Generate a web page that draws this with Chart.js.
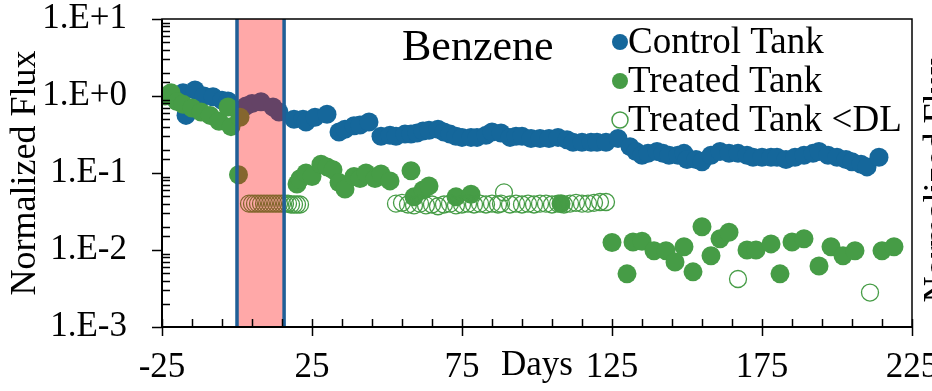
<!DOCTYPE html>
<html>
<head>
<meta charset="utf-8">
<script src="https://cdn.jsdelivr.net/npm/chart.js@4/dist/chart.umd.min.js"></script>
<style>
  html, body { margin: 0; padding: 0; background: #ffffff; }
  #wrap { width: 932px; height: 391px; }
</style>
</head>
<body>
<div id="wrap"><canvas id="fluxChart" width="932" height="391"></canvas></div>
<script>
// Control tank (days, normalized flux)
const controlDays = [-21, -18, -17, -14, -11, -8, -5, -3, 3, 5, 8, 12, 14,
  19, 22, 23, 26, 30, 34, 36, 39, 41, 44, 48, 51, 53, 56, 58, 60, 62, 64, 67, 69,
  71, 73, 75, 78, 80, 83, 85, 88, 91, 93, 95, 98, 101, 104, 107, 110, 112, 115,
  118, 120, 123, 127, 131, 133, 135, 137, 140, 142, 144, 147, 149, 150, 153, 155,
  158, 161, 164, 167, 170, 172, 175, 178, 180, 183, 186, 189, 192, 194, 197, 200,
  203, 205, 208, 210, 214];
const controlFlux = [0.95, 1.1, 0.56, 1.2, 1.0, 0.98, 0.88, 0.86, 0.74, 0.8, 0.84, 0.72, 0.62,
  0.50, 0.50, 0.46, 0.53, 0.58, 0.34, 0.37, 0.41, 0.42, 0.46, 0.30, 0.31, 0.30, 0.32, 0.32, 0.33, 0.35, 0.36, 0.37, 0.34,
  0.32, 0.30, 0.29, 0.29, 0.29, 0.31, 0.34, 0.33, 0.29, 0.30, 0.30, 0.28, 0.28, 0.28, 0.29, 0.27, 0.25, 0.25,
  0.25, 0.25, 0.25, 0.28, 0.22, 0.19, 0.17, 0.18, 0.19, 0.18, 0.17, 0.17, 0.18, 0.15, 0.15, 0.14,
  0.17, 0.19, 0.18, 0.18, 0.17, 0.16, 0.16, 0.16, 0.16, 0.15, 0.16, 0.17, 0.18, 0.19, 0.17, 0.16,
  0.15, 0.14, 0.13, 0.12, 0.16];

// Treated tank, detected values
const treatedDays = [-24, -22, -20, -18, -15, -12, -9, -6, -3, -2, 1, 0.5,
  20, 21, 23, 25, 28, 30, 32, 34, 36, 39, 41, 43, 46, 48, 51, 58, 59, 62, 64, 73, 78, 108,
  125, 130, 132, 135, 139, 143, 146, 149, 152, 155, 158, 161, 164, 170, 173, 178, 181,
  185, 189, 194, 198, 202, 206, 215, 219];
const treatedFlux = [1.0, 1.1, 0.85, 0.78, 0.7, 0.62, 0.56, 0.47, 0.72, 0.40, 0.53, 0.095,
  0.072, 0.084, 0.10, 0.09, 0.13, 0.12, 0.11, 0.075, 0.062, 0.09, 0.085, 0.10, 0.085, 0.097, 0.079, 0.107, 0.049, 0.06, 0.068, 0.049, 0.053, 0.040,
  0.0125, 0.0049, 0.0127, 0.013, 0.0098, 0.0098, 0.0070, 0.011, 0.0052, 0.020, 0.0084, 0.014, 0.017, 0.010, 0.010, 0.012, 0.0049,
  0.0127, 0.014, 0.0062, 0.011, 0.0084, 0.0098, 0.0098, 0.011];

// Treated tank, below detection limit
const belowDlDays = [4, 5, 6, 7, 8, 9, 10, 11, 12, 13, 14, 15, 16, 17, 18, 19, 20, 21,
  53, 55, 57, 59, 61, 63, 65, 67, 69, 71, 73, 75, 77, 79, 81, 83, 85, 87, 88, 89, 91, 93,
  95, 97, 99, 101, 103, 105, 107, 109, 111, 113, 115, 117, 119, 121, 123, 167, 211];
const belowDlFlux = [0.040, 0.040, 0.040, 0.040, 0.040, 0.040, 0.040, 0.040, 0.040, 0.040, 0.040, 0.040, 0.040, 0.040, 0.039, 0.039, 0.039, 0.039,
  0.040, 0.041, 0.039, 0.038, 0.040, 0.038, 0.039, 0.037, 0.039, 0.040, 0.038, 0.039, 0.040, 0.039, 0.040, 0.039, 0.040, 0.039, 0.040, 0.056, 0.039, 0.040,
  0.039, 0.040, 0.039, 0.040, 0.040, 0.039, 0.040, 0.039, 0.040, 0.041, 0.040, 0.040, 0.041, 0.042, 0.042, 0.0042, 0.0028];

// Treatment window (days)
const treatWindow = [0, 15.7];

// Axis settings
const xMin = -25, xMax = 225, xMajorStep = 50, xMinorStep = 10;
const yMin = 1e-3, yMax = 10;

const BLUE = '#15679b';
const GREEN = '#469c46';
const FONT = '"Liberation Serif", "Times New Roman", serif';

const toPoints = (xs, ys) => xs.map((x, i) => ({ x: x, y: ys[i] }));

/**
 * Draws minor/major tick marks, plot frame, shaded window, legend and extra text.
 */
const decorPlugin = {
  id: 'decor',
  afterDatasetsDraw(chart) {
    const { ctx, chartArea: a, scales: { x } } = chart;
    // shaded treatment window, drawn over the points
    const x0 = x.getPixelForValue(treatWindow[0]);
    const x1 = x.getPixelForValue(treatWindow[1]);
    ctx.save();
    ctx.fillStyle = 'rgba(255, 0, 0, 0.34)';
    ctx.fillRect(x0, a.top, x1 - x0, a.bottom - a.top);
    ctx.strokeStyle = '#1f5f97';
    ctx.lineWidth = 3.5;
    ctx.beginPath();
    ctx.moveTo(x0, a.top); ctx.lineTo(x0, a.bottom);
    ctx.moveTo(x1, a.top); ctx.lineTo(x1, a.bottom);
    ctx.stroke();
    ctx.restore();
  },
  afterDraw(chart) {
    const { ctx, chartArea: a, scales: { x, y } } = chart;
    ctx.save();
    ctx.strokeStyle = '#000';
    // frame
    ctx.lineWidth = 1.5;
    ctx.strokeRect(a.left, a.top, a.right - a.left, a.bottom - a.top);
    ctx.lineWidth = 2;
    ctx.beginPath();
    ctx.moveTo(a.left, a.top); ctx.lineTo(a.left, a.bottom); ctx.lineTo(a.right, a.bottom);
    ctx.stroke();
    // y ticks: decades outside, others inside
    ctx.lineWidth = 1.5;
    ctx.beginPath();
    y.ticks.forEach(t => {
      const py = Math.round(y.getPixelForValue(t.value)) + 0.5;
      const major = Math.abs(Math.log10(t.value) - Math.round(Math.log10(t.value))) < 1e-9;
      if (major) { ctx.moveTo(a.left - 10, py); ctx.lineTo(a.left, py); }
      else { ctx.moveTo(a.left, py); ctx.lineTo(a.left + 8, py); }
    });
    // x ticks
    x.ticks.forEach(t => {
      const px = Math.round(x.getPixelForValue(t.value)) + 0.5;
      const major = (t.value - xMin) % xMajorStep === 0;
      if (major) { ctx.moveTo(px, a.bottom - 8); ctx.lineTo(px, a.bottom + 9); }
      else { ctx.moveTo(px, a.bottom - 8); ctx.lineTo(px, a.bottom); }
    });
    ctx.stroke();

    // "Days" label between tick labels
    ctx.fillStyle = '#000';
    ctx.font = `35px ${FONT}`;
    ctx.textAlign = 'center';
    ctx.textBaseline = 'middle';
    ctx.fillText('Days', x.getPixelForValue(100), 366);

    // chart name
    ctx.textAlign = 'left';
    ctx.font = `44px ${FONT}`;
    ctx.fillText('Benzene', 402, 48);

    // legend
    const items = [
      { label: 'Control Tank', fill: BLUE, stroke: BLUE },
      { label: 'Treated Tank', fill: GREEN, stroke: GREEN },
      { label: 'Treated Tank <DL', fill: null, stroke: GREEN }
    ];
    ctx.font = `37px ${FONT}`;
    items.forEach((it, i) => {
      const cy = 42 + i * 39;
      ctx.beginPath();
      ctx.arc(620, cy, 8, 0, Math.PI * 2);
      if (it.fill) { ctx.fillStyle = it.fill; ctx.fill(); }
      else { ctx.strokeStyle = it.stroke; ctx.lineWidth = 1.5; ctx.stroke(); }
      ctx.fillStyle = '#000';
      ctx.fillText(it.label, 628, cy + 1);
    });

    // clipped title of the neighbouring panel at the right edge
    ctx.translate(921, 180);
    ctx.rotate(-Math.PI / 2);
    ctx.textAlign = 'center';
    ctx.textBaseline = 'top';
    ctx.font = `36px ${FONT}`;
    ctx.fillText('Normalized Flux', 0, 0);
    ctx.restore();
  }
};

const ctx = document.getElementById('fluxChart').getContext('2d');
new Chart(ctx, {
  type: 'scatter',
  data: {
    datasets: [
      {
        label: 'Control Tank',
        data: toPoints(controlDays, controlFlux),
        backgroundColor: BLUE,
        borderColor: BLUE,
        pointRadius: 9.5,
        borderWidth: 0,
        order: 3
      },
      {
        label: 'Treated Tank',
        data: toPoints(treatedDays, treatedFlux),
        backgroundColor: GREEN,
        borderColor: GREEN,
        pointRadius: 9.5,
        borderWidth: 0,
        order: 2
      },
      {
        label: 'Treated Tank <DL',
        data: toPoints(belowDlDays, belowDlFlux),
        backgroundColor: 'rgba(0,0,0,0)',
        borderColor: GREEN,
        pointRadius: 8.5,
        borderWidth: 1.3,
        order: 1
      }
    ]
  },
  options: {
    responsive: false,
    animation: false,
    devicePixelRatio: 1,
    layout: { padding: { left: 0, top: 19, right: 20, bottom: 0 } },
    plugins: {
      legend: { display: false },
      tooltip: { enabled: false }
    },
    scales: {
      x: {
        type: 'linear',
        min: xMin,
        max: xMax,
        afterFit: s => { s.height = 64; s.paddingLeft = 0; s.paddingRight = 0; },
        afterBuildTicks: s => {
          s.ticks = [];
          for (let v = xMin; v <= xMax; v += xMinorStep) s.ticks.push({ value: v });
        },
        grid: { display: false, drawTicks: false },
        border: { display: false },
        ticks: {
          autoSkip: false,
          maxRotation: 0,
          padding: 20,
          color: '#000',
          font: { family: FONT, size: 35 },
          callback: v => ((v - xMin) % xMajorStep === 0 ? String(v) : '')
        }
      },
      y: {
        type: 'logarithmic',
        min: yMin,
        max: yMax,
        afterFit: s => { s.width = 162; s.paddingTop = 0; s.paddingBottom = 0; },
        grid: { display: false, drawTicks: false },
        border: { display: false },
        title: {
          display: true,
          text: 'Normalized Flux',
          color: '#000',
          font: { family: FONT, size: 36 },
          padding: { top: 4, bottom: 0 }
        },
        ticks: {
          autoSkip: false,
          padding: 35,
          color: '#000',
          font: { family: FONT, size: 35 },
          callback: v => {
            const e = Math.log10(v);
            if (Math.abs(e - Math.round(e)) > 1e-9) return '';
            const n = Math.round(e);
            return '1.E' + (n >= 0 ? '+' : '') + n;
          }
        }
      }
    }
  },
  plugins: [decorPlugin]
});
</script>
</body>
</html>
